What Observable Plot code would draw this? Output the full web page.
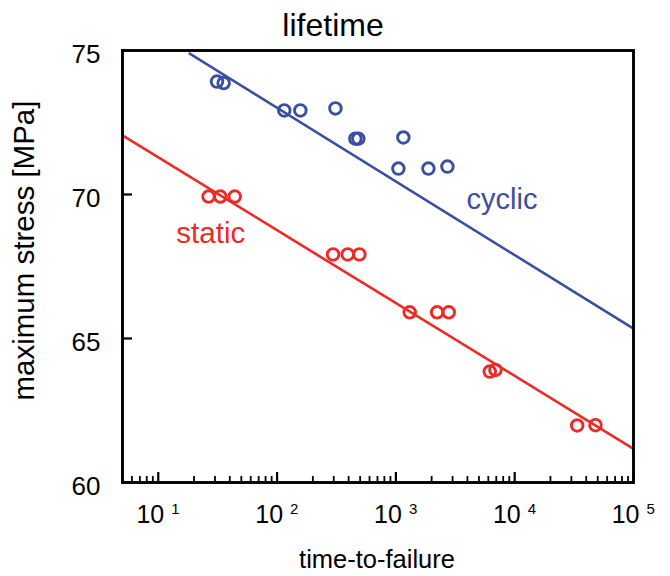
<!DOCTYPE html>
<html>
<head>
<meta charset="utf-8">
<script src="https://cdn.jsdelivr.net/npm/d3@7"></script>
<script src="https://cdn.jsdelivr.net/npm/@observablehq/plot@0.6"></script>
<style>
  html, body { margin: 0; padding: 0; background: #fff; }
</style>
</head>
<body>
<div id="chart"></div>
<script>
// ---- data ----
const cyclicTime   = [31.2, 35.5, 115, 157, 310, 456, 483, 1156, 1050, 1879, 2716];
const cyclicStress = [73.92, 73.87, 72.92, 72.92, 72.99, 71.94, 71.94, 71.98, 70.9, 70.9, 70.97];
const staticTime   = [26.5, 33.3, 44.0, 296, 393, 493, 1307, 2223, 2786, 6166, 6887, 33570, 47860];
const staticStress = [69.93, 69.93, 69.93, 67.92, 67.92, 67.92, 65.91, 65.91, 65.91, 63.85, 63.91, 61.98, 61.99];
const cyclicFitTime   = [18.4, 1e5];
const cyclicFitStress = [74.89, 65.34];
const staticFitTime   = [5, 1e5];
const staticFitStress = [72.05, 61.17];

const xMajorTicks = [10, 100, 1000, 10000, 100000];
const xTickBase = ["10", "10", "10", "10", "10"];
const xTickExp  = ["1", "2", "3", "4", "5"];
const xMinorTicks = [5, 6, 7, 8, 9].concat(
  ...[10, 100, 1000, 10000].map(d => [2, 3, 4, 5, 6, 7, 8, 9].map(m => m * d))
);
const yTicks = [60, 65, 70, 75];

const blue = "#3a4fa0";
const red = "#ee2a26";
const font = "'Liberation Sans', Arial, Helvetica, sans-serif";

const chart = Plot.plot({
  width: 670,
  height: 576,
  marginLeft: 122,
  marginRight: 37,
  marginTop: 50,
  marginBottom: 94,
  style: { fontFamily: font, background: "#fff", color: "#000" },
  x: { type: "log", domain: [5, 1e5] },
  y: { domain: [60, 75] },
  marks: [
    // inward ticks
    Plot.axisX({ ticks: xMinorTicks, tickSize: -6, tickFormat: () => "", label: null, strokeWidth: 1.8 }),
    Plot.axisX({ ticks: xMajorTicks, tickSize: -10, tickFormat: () => "", label: null, strokeWidth: 2.2 }),
    Plot.axisY({ ticks: yTicks, tickSize: -10, tickFormat: () => "", label: null, strokeWidth: 2.2 }),
    Plot.axisY({ ticks: yTicks, tickSize: 0, tickPadding: 22, fontSize: 26, dy: 4, label: null }),
    // x tick labels 10^n
    Plot.text(xMajorTicks, { x: d => d, text: xTickBase, frameAnchor: "bottom", dx: 6, dy: 40, textAnchor: "end", lineAnchor: "bottom", fontSize: 25, fill: "#000" }),
    Plot.text(xMajorTicks, { x: d => d, text: xTickExp, frameAnchor: "bottom", dx: 13, dy: 31, textAnchor: "start", lineAnchor: "bottom", fontSize: 15, fill: "#000" }),
    // fit lines
    Plot.line(cyclicFitTime, { x: cyclicFitTime, y: cyclicFitStress, stroke: blue, strokeWidth: 2.6 }),
    Plot.line(staticFitTime, { x: staticFitTime, y: staticFitStress, stroke: red, strokeWidth: 2.6 }),
    // data points
    Plot.dot(cyclicTime, { x: cyclicTime, y: cyclicStress, r: 5.8, stroke: blue, strokeWidth: 2.9, fill: "none" }),
    Plot.dot(staticTime, { x: staticTime, y: staticStress, r: 5.8, stroke: red, strokeWidth: 2.9, fill: "none" }),
    // series labels
    Plot.text(["cyclic"], { x: [3930], y: [69.5], text: d => d, textAnchor: "start", lineAnchor: "bottom", fontSize: 29, fill: blue }),
    Plot.text(["static"], { x: [14.2], y: [68.33], text: d => d, textAnchor: "start", lineAnchor: "bottom", fontSize: 29.5, fill: red }),
    // frame
    Plot.frame({ stroke: "#000", strokeWidth: 2.9 }),
    // title & axis labels
    Plot.text(["lifetime"], { frameAnchor: "top", text: d => d, dx: -45, dy: -15, lineAnchor: "bottom", fontSize: 32, fill: "#000" }),
    Plot.text(["time-to-failure"], { frameAnchor: "bottom", text: d => d, dx: -1, dy: 85, lineAnchor: "bottom", fontSize: 25.5, fill: "#000" }),
    Plot.text(["maximum stress [MPa]"], { frameAnchor: "left", text: d => d, dx: -89, dy: 134, rotate: -90, textAnchor: "start", lineAnchor: "bottom", fontSize: 29.5, fill: "#000" })
  ]
});
document.getElementById("chart").appendChild(chart);
</script>
</body>
</html>
